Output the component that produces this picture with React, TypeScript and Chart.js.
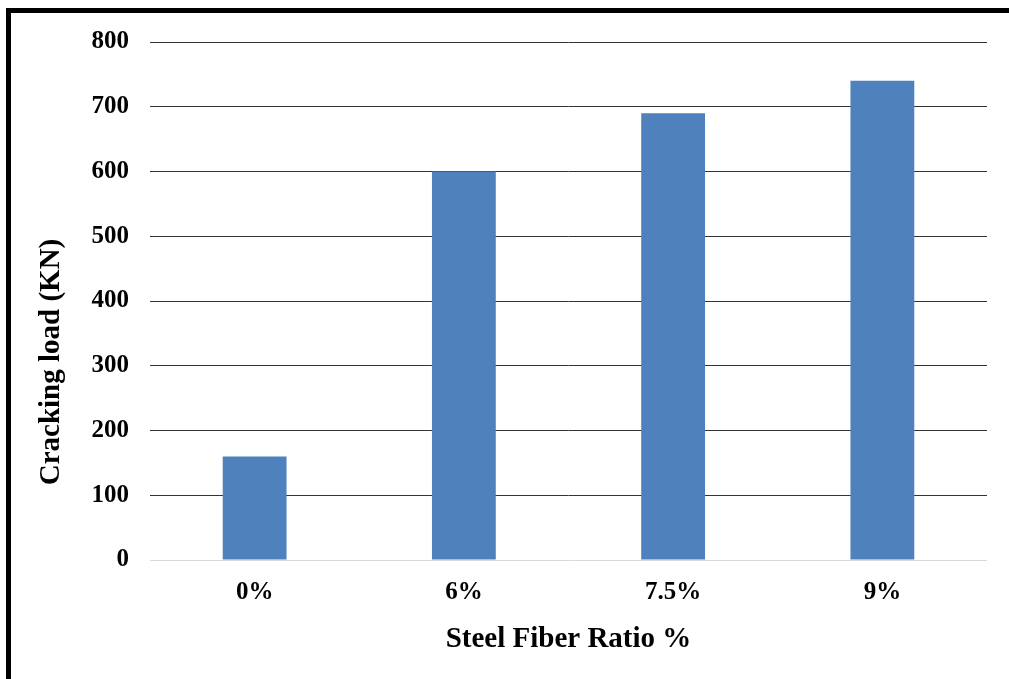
import React, { useEffect, useRef } from "react";
import { Chart, registerables } from "chart.js";

Chart.register(...registerables);

const categories = ["0%", "6%", "7.5%", "9%"];
const crackingLoad = [160, 600, 690, 740];
const yTicks = [0, 100, 200, 300, 400, 500, 600, 700, 800];
const yTitle = "Cracking load (KN)";
const xTitle = "Steel Fiber Ratio %";

const SERIF = "'Liberation Serif', 'Times New Roman', serif";

// Thick black frame along the top and left edges
const framePlugin = {
  id: "frame",
  afterDraw(chart: any) {
    const { ctx, width, height } = chart;
    ctx.save();
    ctx.fillStyle = "#000";
    ctx.fillRect(6, 8, width - 6, 5);
    ctx.fillRect(6, 8, 5, height - 8);
    ctx.restore();
  },
};

// Rotated y-axis title, sitting a little below the plot's midpoint
const yTitlePlugin = {
  id: "yTitle",
  afterDraw(chart: any) {
    const { ctx, chartArea } = chart;
    ctx.save();
    ctx.translate(52, chartArea.bottom - 198);
    ctx.rotate(-Math.PI / 2);
    ctx.font = `bold 29px ${SERIF}`;
    ctx.fillStyle = "#000";
    ctx.textAlign = "center";
    ctx.textBaseline = "middle";
    ctx.fillText(yTitle, 0, 0);
    ctx.restore();
  },
};

export default function App() {
  const ref = useRef<HTMLCanvasElement | null>(null);

  useEffect(() => {
    if (!ref.current) return;
    const chart = new Chart(ref.current, {
      type: "bar",
      data: {
        labels: categories,
        datasets: [
          {
            label: "Cracking load",
            data: crackingLoad,
            backgroundColor: "#4f81bd",
            barPercentage: 0.61,
            categoryPercentage: 0.5,
          },
        ],
      },
      options: {
        responsive: false,
        animation: false,
        layout: { padding: { left: 31, right: 22, top: 42, bottom: 18 } },
        plugins: {
          legend: { display: false },
          tooltip: { enabled: false },
        },
        scales: {
          x: {
            grid: { display: false, drawTicks: false },
            border: { display: false },
            ticks: {
              color: "#000",
              padding: 18,
              font: { family: SERIF, size: 25, weight: "bold" },
            },
            title: {
              display: true,
              text: xTitle,
              color: "#000",
              font: { family: SERIF, size: 29, weight: "bold" },
            },
            afterFit(s: any) {
              s.height = 101;
            },
          },
          y: {
            min: 0,
            max: 800,
            afterBuildTicks(s: any) {
              s.ticks = yTicks.map((v) => ({ value: v }));
            },
            grid: {
              drawTicks: false,
              color: (c: any) => (c.tick && c.tick.value === 0 ? "#d9d9d9" : "#333"),
              lineWidth: 1,
            },
            border: { display: false },
            ticks: {
              color: "#000",
              padding: 21,
              font: { family: SERIF, size: 25, weight: "bold" },
            },
            title: { display: false },
            afterFit(s: any) {
              s.width = 119;
            },
          },
        },
      },
      plugins: [framePlugin, yTitlePlugin],
    });
    return () => chart.destroy();
  }, []);

  return (
    <div style={{ position: "fixed", left: 0, top: 0, width: 1009, height: 679, background: "#fff" }}>
      <canvas ref={ref} width={1009} height={679} style={{ display: "block" }} />
    </div>
  );
}
